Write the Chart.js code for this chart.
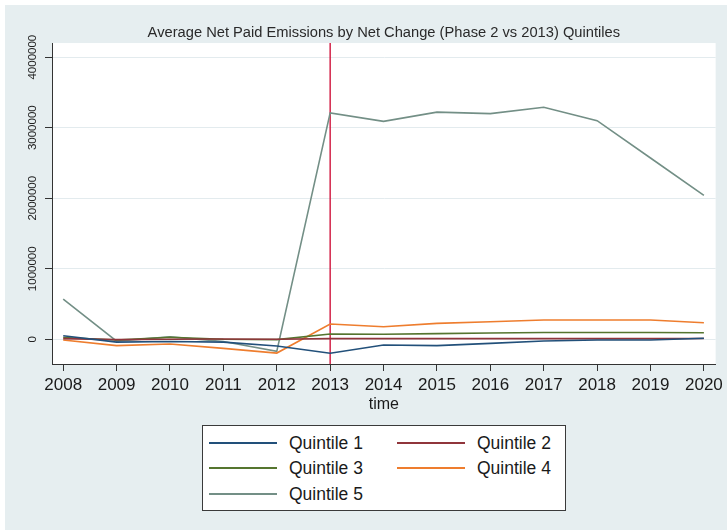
<!DOCTYPE html>
<html>
<head>
<meta charset="utf-8">
<script src="https://cdn.jsdelivr.net/npm/chart.js@4.4.1/dist/chart.umd.min.js"></script>
<style>
  html, body { margin: 0; padding: 0; background: #fff; }
  #wrap { position: relative; width: 727px; height: 532px; }
  #c { position: absolute; left: 0; top: 0; }
  #legend {
    position: absolute; left: 202px; top: 425px; width: 364px; height: 86px;
    box-sizing: border-box; border: 1px solid #3a3a3a; background: #fff;
    font-family: "Liberation Sans", Arial, sans-serif; font-size: 17.5px; color: #1a1a1a;
  }
  .item { position: absolute; height: 20px; width: 170px; }
  .swatch { position: absolute; left: 0; top: 9px; width: 68px; height: 0; border-top: 2px solid; }
  .lbl { position: absolute; left: 80px; top: 0; line-height: 20px; white-space: nowrap; }
</style>
</head>
<body>
<div id="wrap">
  <canvas id="c" width="727" height="532"></canvas>
  <div id="legend"></div>
</div>
<script>
// Years on the x axis
const years = [2008, 2009, 2010, 2011, 2012, 2013, 2014, 2015, 2016, 2017, 2018, 2019, 2020];

// Average net paid emissions per quintile
const quintile1 = [50000, -40000, -30000, -40000, -95000, -198000, -81000, -90000, -57000, -24000, -10000, -10000, 14000];
const quintile2 = [10000, -5000, 0, 5000, 0, 10000, 10000, 10000, 10000, 10000, 10000, 10000, 12000];
const quintile3 = [25000, -10000, 30000, 0, -5000, 75000, 72000, 80000, 90000, 97000, 97000, 97000, 92000];
const quintile4 = [-10000, -90000, -67000, -128000, -195000, 217000, 178000, 226000, 250000, 273000, 273000, 273000, 235000];
const quintile5 = [570000, -25000, 35000, -30000, -170000, 3210000, 3090000, 3220000, 3200000, 3290000, 3100000, 2570000, 2040000];

const seriesNames = ['Quintile 1', 'Quintile 2', 'Quintile 3', 'Quintile 4', 'Quintile 5'];
const seriesValues = [quintile1, quintile2, quintile3, quintile4, quintile5];
const seriesColors = ['#22507a', '#90353b', '#55752f', '#ee7d2e', '#738f86'];

// Y axis tick values and the reference year marked by the vertical line
const yTicks = [0, 1000000, 2000000, 3000000, 4000000];
const markerYear = 2013;

const FONT = '"Liberation Sans", Arial, sans-serif';

const datasets = seriesNames.map((name, i) => ({
  label: name,
  data: years.map((y, j) => ({ x: y, y: seriesValues[i][j] })),
  borderColor: seriesColors[i],
  backgroundColor: seriesColors[i],
  borderWidth: 1.6,
  pointRadius: 0,
  tension: 0,
  fill: false
}));

// Page background, plot background, reference line and rotated y labels
const decor = {
  id: 'decor',
  beforeDraw(chart) {
    const { ctx, chartArea: a } = chart;
    ctx.save();
    ctx.fillStyle = '#ffffff';
    ctx.fillRect(0, 0, chart.width, chart.height);
    ctx.fillStyle = '#e6eef0';
    ctx.fillRect(5, 5, chart.width - 5, chart.height - 7);
    ctx.fillStyle = '#ffffff';
    ctx.fillRect(a.left, a.top, a.right - a.left, a.bottom - a.top);
    ctx.restore();
  },
  beforeDatasetsDraw(chart) {
    const { ctx, chartArea: a, scales } = chart;
    const x = scales.x.getPixelForValue(markerYear);
    ctx.save();
    ctx.strokeStyle = '#d0143c';
    ctx.lineWidth = 1.4;
    ctx.beginPath();
    ctx.moveTo(x, a.top);
    ctx.lineTo(x, a.bottom);
    ctx.stroke();
    ctx.restore();
  },
  afterDraw(chart) {
    const { ctx, scales } = chart;
    const ys = scales.y;
    ctx.save();
    ctx.fillStyle = '#222';
    ctx.font = '11.5px ' + FONT;
    ctx.textAlign = 'center';
    ctx.textBaseline = 'middle';
    ys.ticks.forEach(t => {
      const py = ys.getPixelForValue(t.value);
      ctx.save();
      ctx.translate(33, py);
      ctx.rotate(-Math.PI / 2);
      ctx.fillText(String(t.value), 0, 0);
      ctx.restore();
    });
    ctx.restore();
  }
};

new Chart(document.getElementById('c'), {
  type: 'line',
  data: { datasets },
  options: {
    responsive: false,
    animation: false,
    layout: { padding: { left: 0, right: 11, top: 0, bottom: 108 } },
    plugins: {
      legend: { display: false },
      tooltip: { enabled: false },
      title: {
        display: true,
        fullSize: false,
        text: 'Average Net Paid Emissions by Net Change (Phase 2 vs 2013) Quintiles',
        color: '#2a2a2a',
        font: { family: FONT, size: 14.7, weight: 'normal' },
        padding: { top: 24, bottom: 1.4 }
      }
    },
    scales: {
      x: {
        type: 'linear',
        min: 2007.79,
        max: 2020.22,
        afterFit(s) { s.height = 60; },
        grid: { drawOnChartArea: false, drawTicks: true, tickLength: 7, tickColor: '#333', tickWidth: 1 },
        border: { color: '#333', width: 1 },
        ticks: {
          stepSize: 1,
          includeBounds: false,
          autoSkip: false,
          maxRotation: 0,
          padding: 4,
          color: '#1a1a1a',
          font: { family: FONT, size: 17 },
          callback: v => String(v)
        },
        title: {
          display: true,
          text: 'time',
          color: '#1a1a1a',
          font: { family: FONT, size: 16 },
          padding: { top: 0, bottom: 10 }
        }
      },
      y: {
        type: 'linear',
        min: -350000,
        max: 4200000,
        afterFit(s) { s.width = 52; },
        afterBuildTicks(s) { s.ticks = yTicks.map(v => ({ value: v })); },
        grid: { color: '#e3ebee', lineWidth: 1, drawTicks: true, tickLength: 7, tickColor: '#333', tickWidth: 1 },
        border: { color: '#333', width: 1 },
        ticks: {
          color: 'rgba(0,0,0,0)',
          font: { family: FONT, size: 11.5 },
          callback: v => String(v)
        }
      }
    }
  },
  plugins: [decor]
});

// Legend: two columns, built from the series names and colours
const legend = document.getElementById('legend');
const colLeft = [6, 194];
const rowTop = [7, 32, 58];
seriesNames.forEach((name, i) => {
  const item = document.createElement('div');
  item.className = 'item';
  item.style.left = colLeft[i % 2] + 'px';
  item.style.top = rowTop[Math.floor(i / 2)] + 'px';
  const sw = document.createElement('div');
  sw.className = 'swatch';
  sw.style.borderTopColor = seriesColors[i];
  const lbl = document.createElement('div');
  lbl.className = 'lbl';
  lbl.textContent = name;
  item.appendChild(sw);
  item.appendChild(lbl);
  legend.appendChild(item);
});
</script>
</body>
</html>
